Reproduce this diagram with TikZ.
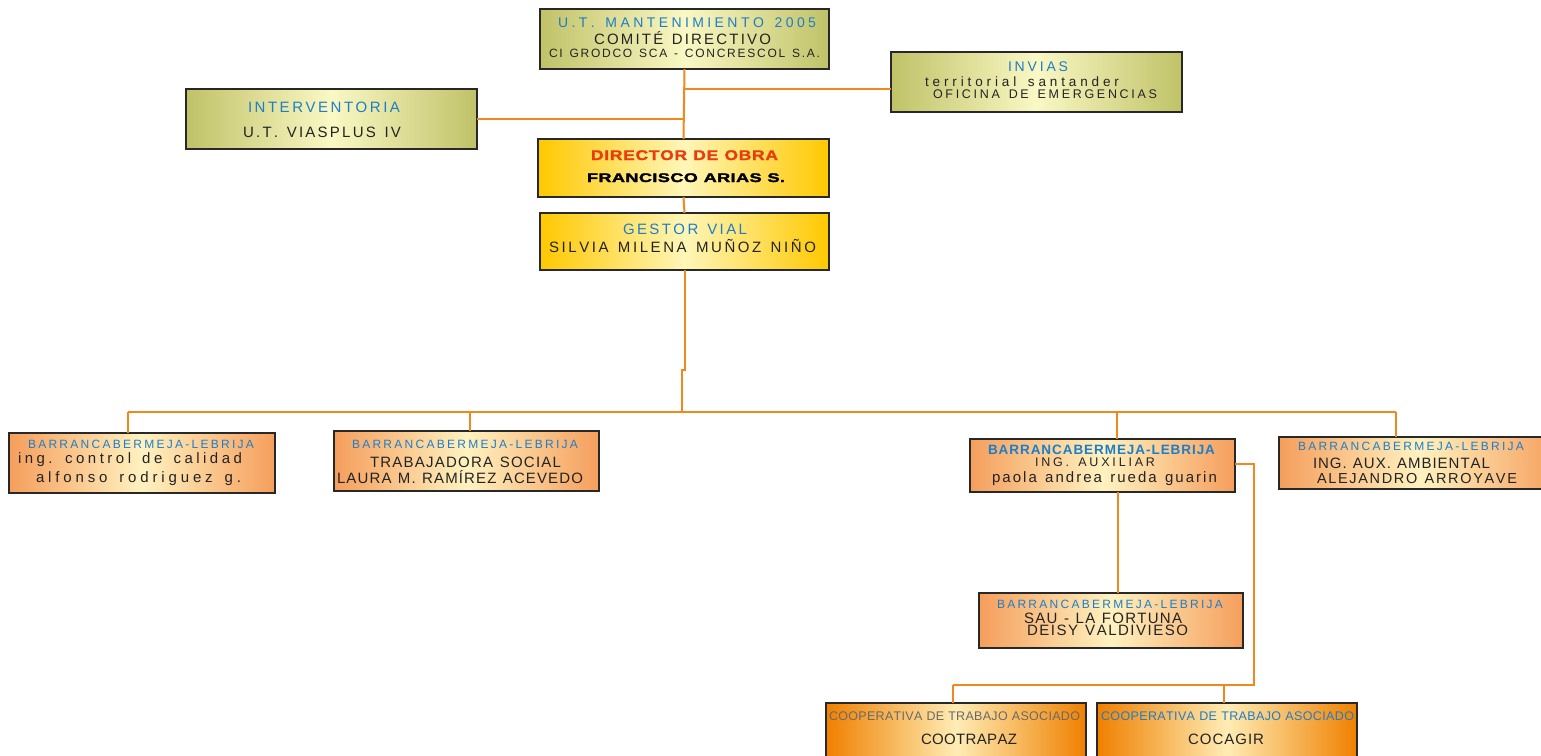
\documentclass[tikz,border=0pt]{standalone}
\usepackage{fontspec}
\setmainfont{Liberation Sans}
\newfontfamily\extA[FakeStretch=1.25,FakeBold=1.5]{Liberation Sans}
\newfontfamily\extB[FakeStretch=1.45,FakeBold=2.5]{Liberation Sans}
\ExplSyntaxOn
\NewDocumentCommand\spreadtext{mm}
  {\hbox to #1 {\str_map_inline:nn {#2} {##1 \hfil} \unskip}}
\ExplSyntaxOff
\newcommand\setfs[1]{\fontsize{#1}{#1}\selectfont}
\definecolor{tblue}{RGB}{30,125,200}
\definecolor{tdark}{RGB}{35,35,35}
\definecolor{tred}{RGB}{232,60,15}
\definecolor{tgray}{RGB}{105,105,105}
\definecolor{lorange}{RGB}{240,136,30}
\definecolor{oliveE}{RGB}{192,194,104}
\definecolor{oliveC}{RGB}{250,248,196}
\definecolor{goldE}{RGB}{255,200,0}
\definecolor{goldC}{RGB}{255,246,184}
\definecolor{peachE}{RGB}{245,158,92}
\definecolor{peachC}{RGB}{255,242,192}
\definecolor{coopE}{RGB}{240,128,0}
\definecolor{coopC}{RGB}{255,236,180}
\definecolor{bdr}{RGB}{40,40,40}
\tikzset{
  orgbox/.style={draw=bdr, line width=2pt, inner sep=0pt, outer sep=0pt},
  olivebox/.style={orgbox, left color=oliveE, right color=oliveE, middle color=oliveC},
  goldbox/.style={orgbox, left color=goldE, right color=goldE, middle color=goldC},
  peachbox/.style={orgbox, left color=peachE, right color=peachE, middle color=peachC},
  coopbox/.style={orgbox, left color=coopE, right color=coopE, middle color=coopC},
  conn/.style={draw=lorange, line width=2pt},
  lbl/.style={anchor=base west, inner sep=0pt, outer sep=0pt, text=tdark},
  blbl/.style={lbl, text=tblue},
}
\begin{document}
\begin{tikzpicture}[x=1pt,y=-1pt]
\useasboundingbox (0,0) rectangle (1541,755);
\fill[white] (0,0) rectangle (1541,755);
\clip (0,0) rectangle (1541,755);

% boxes
\node[olivebox, minimum width=289pt, minimum height=60pt] (top) at (684.5,39) {};
\node[olivebox, minimum width=291pt, minimum height=60pt] (interv) at (331.5,119) {};
\node[olivebox, minimum width=291pt, minimum height=60pt] (invias) at (1036.5,82) {};
\node[goldbox, minimum width=291pt, minimum height=58pt] (dir) at (683.5,168) {};
\node[goldbox, minimum width=289pt, minimum height=57pt] (gestor) at (684.5,241.5) {};
\node[peachbox, minimum width=266pt, minimum height=60pt] (b1) at (142,463) {};
\node[peachbox, minimum width=265pt, minimum height=60pt] (b2) at (466.5,461) {};
\node[peachbox, minimum width=265pt, minimum height=53pt] (b3) at (1102.5,465.5) {};
\node[peachbox, minimum width=281pt, minimum height=52pt] (b4) at (1419.5,463) {};
\node[peachbox, minimum width=264pt, minimum height=55pt] (sau) at (1111,620.5) {};
\node[coopbox, minimum width=260pt, minimum height=72pt] (coop1) at (956,739) {};
\node[coopbox, minimum width=260pt, minimum height=72pt] (coop2) at (1227,739) {};

% connector points
\coordinate (invin) at ([yshift=-7pt]invias.west);
\coordinate (b3out) at ([yshift=2pt]b3.east);
\coordinate (jog) at (682,370);
\coordinate (hub) at (682,412);
\coordinate (d1) at (128,412);
\coordinate (d2) at (470,412);
\coordinate (d3) at (1117,412);
\coordinate (d4) at (1396,412);
\coordinate (d5) at (1118,500);
\coordinate (c1) at (1254,685);
\coordinate (c2) at (953,685);
\coordinate (c3) at (1224,685);

% connectors
\draw[conn] (top.south) -- (dir.north);
\draw[conn] (top.south |- invin) -- (invin);
\draw[conn] (interv.east) -- (top.south |- interv.east);
\draw[conn] (dir.south) -- (gestor.north);
\draw[conn] (gestor.south) |- (jog) -- (hub);
\draw[conn] (d1) -- (d4);
\draw[conn] (d1) -- (d1 |- b1.north);
\draw[conn] (d2) -- (d2 |- b2.north);
\draw[conn] (d3) -- (d3 |- b3.north);
\draw[conn] (d4) -- (d4 |- b4.north);
\draw[conn] (b3.south -| d5) -- (sau.north -| d5);
\draw[conn] (b3out) -| (c1) -- (c2);
\draw[conn] (c2) -- (c2 |- coop1.north);
\draw[conn] (c3) -- (c3 |- coop2.north);

% texts
\node[blbl, font=\setfs{14}] (t1) at (558,27) {\spreadtext{258pt}{U.T. MANTENIMIENTO 2005}};
\node[lbl, font=\setfs{15}] (t2) at (594,44) {\spreadtext{177pt}{COMITÉ DIRECTIVO}};
\node[lbl, font=\setfs{12}] (t3) at (549,57) {\spreadtext{271pt}{CI GRODCO SCA - CONCRESCOL S.A.}};

\node[blbl, font=\setfs{15}] (t4) at (248,112) {\spreadtext{152pt}{INTERVENTORIA}};
\node[lbl, font=\setfs{15}] (t5) at (243,137) {\spreadtext{158pt}{U.T. VIASPLUS IV}};

\node[blbl, font=\setfs{14}] (t6) at (1008,71) {\spreadtext{60pt}{INVIAS}};
\node[lbl, font=\setfs{13.5}] (t7) at (925,86) {\spreadtext{194pt}{territorial santander}};
\node[lbl, font=\setfs{12.5}] (t8) at (933,98) {\spreadtext{224pt}{OFICINA DE EMERGENCIAS}};

\node[lbl, text=tred, font={\extA\bfseries\setfs{14}}] (t9) at (591,160) {\spreadtext{187pt}{DIRECTOR DE OBRA}};
\node[lbl, text=black, font={\extB\bfseries\setfs{12.5}}] (t10) at (587,182) {\spreadtext{198pt}{FRANCISCO ARIAS S.}};

\node[blbl, font=\setfs{15}] (t11) at (623,234) {\spreadtext{124pt}{GESTOR VIAL}};
\node[lbl, font=\setfs{15}] (t12) at (549,252) {\spreadtext{267pt}{SILVIA MILENA MUÑOZ NIÑO}};

\node[blbl, font=\setfs{12}] (t13) at (28,448) {\spreadtext{226pt}{BARRANCABERMEJA-LEBRIJA}};
\node[lbl, font=\setfs{15}] (t14) at (18,463) {\spreadtext{224pt}{ing. control de calidad}};
\node[lbl, font=\setfs{15}] (t15) at (36,482) {\spreadtext{205pt}{alfonso rodriguez g.}};

\node[blbl, font=\setfs{12}] (t16) at (352,448) {\spreadtext{226pt}{BARRANCABERMEJA-LEBRIJA}};
\node[lbl, font=\setfs{15}] (t17) at (370,467) {\spreadtext{191pt}{TRABAJADORA SOCIAL}};
\node[lbl, font=\setfs{15}] (t18) at (337,483) {\spreadtext{246pt}{LAURA M. RAMÍREZ ACEVEDO}};

\node[blbl, font=\bfseries\setfs{13.5}] (t19) at (988,454) {\spreadtext{227pt}{BARRANCABERMEJA-LEBRIJA}};
\node[lbl, font=\setfs{12.5}] (t20) at (1035,466) {\spreadtext{120pt}{ING. AUXILIAR}};
\node[lbl, font=\setfs{15}] (t21) at (992,482) {\spreadtext{225pt}{paola andrea rueda guarin}};

\node[blbl, font=\setfs{12}] (t22) at (1298,450) {\spreadtext{226pt}{BARRANCABERMEJA-LEBRIJA}};
\node[lbl, font=\setfs{15}] (t23) at (1313,468) {\spreadtext{177pt}{ING. AUX. AMBIENTAL}};
\node[lbl, font=\setfs{14.5}] (t24) at (1317,483) {\spreadtext{200pt}{ALEJANDRO ARROYAVE}};

\node[blbl, font=\setfs{12}] (t25) at (997,608) {\spreadtext{226pt}{BARRANCABERMEJA-LEBRIJA}};
\node[lbl, font=\setfs{15}] (t26) at (1024,623) {\spreadtext{158pt}{SAU - LA FORTUNA}};
\node[lbl, font=\setfs{15}] (t27) at (1027,635) {\spreadtext{161pt}{DEISY VALDIVIESO}};

\node[lbl, text=tgray, font=\setfs{12.5}] (t28) at (829,720) {\spreadtext{251pt}{COOPERATIVA DE TRABAJO ASOCIADO}};
\node[lbl, font=\setfs{15}] (t29) at (921,744) {\spreadtext{96pt}{COOTRAPAZ}};
\node[blbl, font=\setfs{12.5}] (t30) at (1101,720) {\spreadtext{253pt}{COOPERATIVA DE TRABAJO ASOCIADO}};
\node[lbl, font=\setfs{15}] (t31) at (1188,744) {\spreadtext{76pt}{COCAGIR}};
\end{tikzpicture}
\end{document}
